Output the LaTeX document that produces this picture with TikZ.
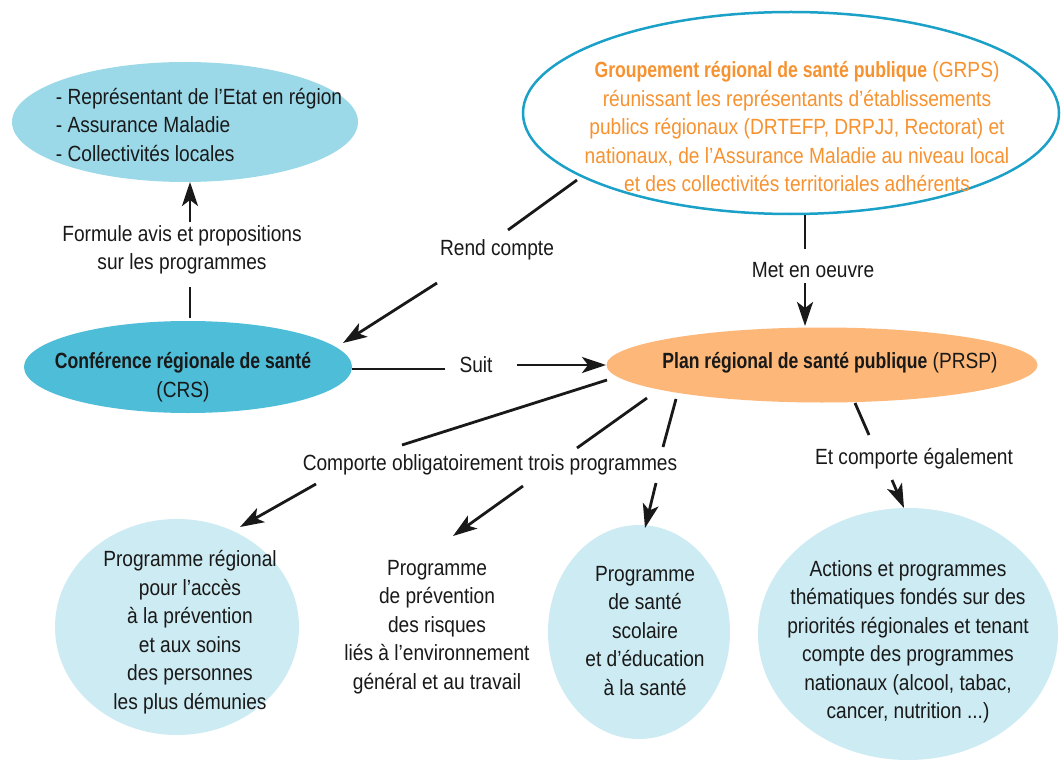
\documentclass[tikz,border=0pt]{standalone}
\usepackage{fontspec}
\setmainfont{Liberation Sans}[FakeStretch=0.87,BoldFeatures={FakeStretch=0.8}]
\usetikzlibrary{arrows.meta,shapes.geometric}
\definecolor{topblue}{RGB}{155,217,233}
\definecolor{crsblue}{RGB}{78,189,216}
\definecolor{grpsline}{RGB}{27,160,200}
\definecolor{grpstext}{RGB}{247,146,48}
\definecolor{prspfill}{RGB}{253,183,120}
\definecolor{progfill}{RGB}{205,235,243}
\definecolor{ink}{RGB}{25,25,25}
\begin{document}
\begin{tikzpicture}[x=1pt,y=-1pt,
  blob/.style={ellipse,inner sep=0pt,outer sep=0pt},
  txt/.style={align=center,font=\fontsize{22}{28.5}\selectfont,text=ink,inner sep=0pt},
  link/.style={line width=2.8pt,draw=ink},
  arr/.style={link,-{Stealth[length=24pt 0 0,width=16pt 0 0,inset=6pt 0]}}]
\useasboundingbox[fill=white] (0,0) rectangle (1062,762);

% ellipses
\node[blob,fill=topblue,minimum width=346pt,minimum height=120pt] (top) at (185,122) {};
\node[blob,draw=grpsline,line width=2.5pt,fill=white,minimum width=536pt,minimum height=202pt] (grps) at (791,113) {};
\node[blob,fill=crsblue,minimum width=328pt,minimum height=92pt] (crs) at (188,367) {};
\node[blob,fill=prspfill,minimum width=431pt,minimum height=75pt] (prsp) at (822,365) {};
\node[blob,fill=progfill,minimum width=244pt,minimum height=216pt] (progA) at (177,627) {};
\node[blob,fill=progfill,minimum width=182pt,minimum height=214pt] (progC) at (639,632) {};
\node[blob,fill=progfill,minimum width=300pt,minimum height=252pt] (actions) at (908,634) {};

% texts
\node[txt,align=left] (topT) at (199,125) {- Représentant de l’Etat en région\\- Assurance Maladie\\- Collectivités locales};
\node[txt,text=grpstext] (grpsT) at (797,127) {\textbf{Groupement régional de santé publique} (GRPS)\\réunissant les représentants d’établissements\\publics régionaux (DRTEFP, DRPJJ, Rectorat) et\\nationaux, de l’Assurance Maladie au niveau local\\et des collectivités territoriales adhérents};
\node[txt] (crsT) at (183,377) {\textbf{Conférence régionale de santé}\\(CRS)};
\node[txt] (prspT) at (830,363) {\textbf{Plan régional de santé publique} (PRSP)};
\node[txt] (progAT) at (190,632) {Programme régional\\pour l’accès\\à la prévention\\et aux soins\\des personnes\\les plus démunies};
\node[txt] (progBT) at (437,627) {Programme\\de prévention\\des risques\\liés à l’environnement\\général et au travail};
\node[txt] (progCT) at (645,631) {Programme\\de santé\\scolaire\\et d’éducation\\à la santé};
\node[txt] (actionsT) at (908,642) {Actions et programmes\\thématiques fondés sur des\\priorités régionales et tenant\\compte des programmes\\nationaux (alcool, tabac,\\cancer, nutrition ...)};

% labels
\node[txt] (formule) at (182,250) {Formule avis et propositions\\sur les programmes};
\node[txt] (rend) at (497,250) {Rend compte};
\node[txt] (met) at (813,270) {Met en oeuvre};
\node[txt] (suit) at (476,365) {Suit};
\node[txt] (comporte) at (490,465) {Comporte obligatoirement trois programmes};
\node[txt] (etcomp) at (914,459) {Et comporte également};

% connectors
\draw[link] ([shift={(2,-49)}]crs.center) -- ([shift={(8,37)}]formule.center);
\draw[arr] ([shift={(8,-28)}]formule.center) -- ([shift={(5,60)}]top.center);
\draw[link] ([shift={(-214,67)}]grps.center) -- ([shift={(11,-20)}]rend.center);
\draw[arr] ([shift={(-60,33)}]rend.center) -- ([shift={(155,-24)}]crs.center);
\draw[link] ([shift={(14,102)}]grps.center) -- ([shift={(-8,-21)}]met.center);
\draw[arr] ([shift={(-8,13)}]met.center) -- ([shift={(-17,-39)}]prsp.center);
\draw[link] ([shift={(164,2)}]crs.center) -- ([shift={(-31,4)}]suit.center);
\draw[arr] ([shift={(41,0)}]suit.center) -- ([shift={(-216,0)}]prsp.center);
\draw[link] ([shift={(-215,15)}]prsp.center) -- ([shift={(-88,-20)}]comporte.center);
\draw[link] ([shift={(-175,33)}]prsp.center) -- ([shift={(87,-17)}]comporte.center);
\draw[link] ([shift={(-146,34)}]prsp.center) -- ([shift={(173,-18)}]comporte.center);
\draw[arr] ([shift={(-174,19)}]comporte.center) -- ([shift={(63,-100)}]progA.center);
\draw[arr] ([shift={(33,21)}]comporte.center) -- ([shift={(16,-91)}]progBT.center);
\draw[arr] ([shift={(166,18)}]comporte.center) -- ([shift={(6,-104)}]progC.center);
\draw[link] ([shift={(33,38)}]prsp.center) -- ([shift={(-45,-24)}]etcomp.center);
\draw[arr] ([shift={(-22,21)}]etcomp.center) -- ([shift={(-4,-126)}]actions.center);
\end{tikzpicture}
\end{document}
